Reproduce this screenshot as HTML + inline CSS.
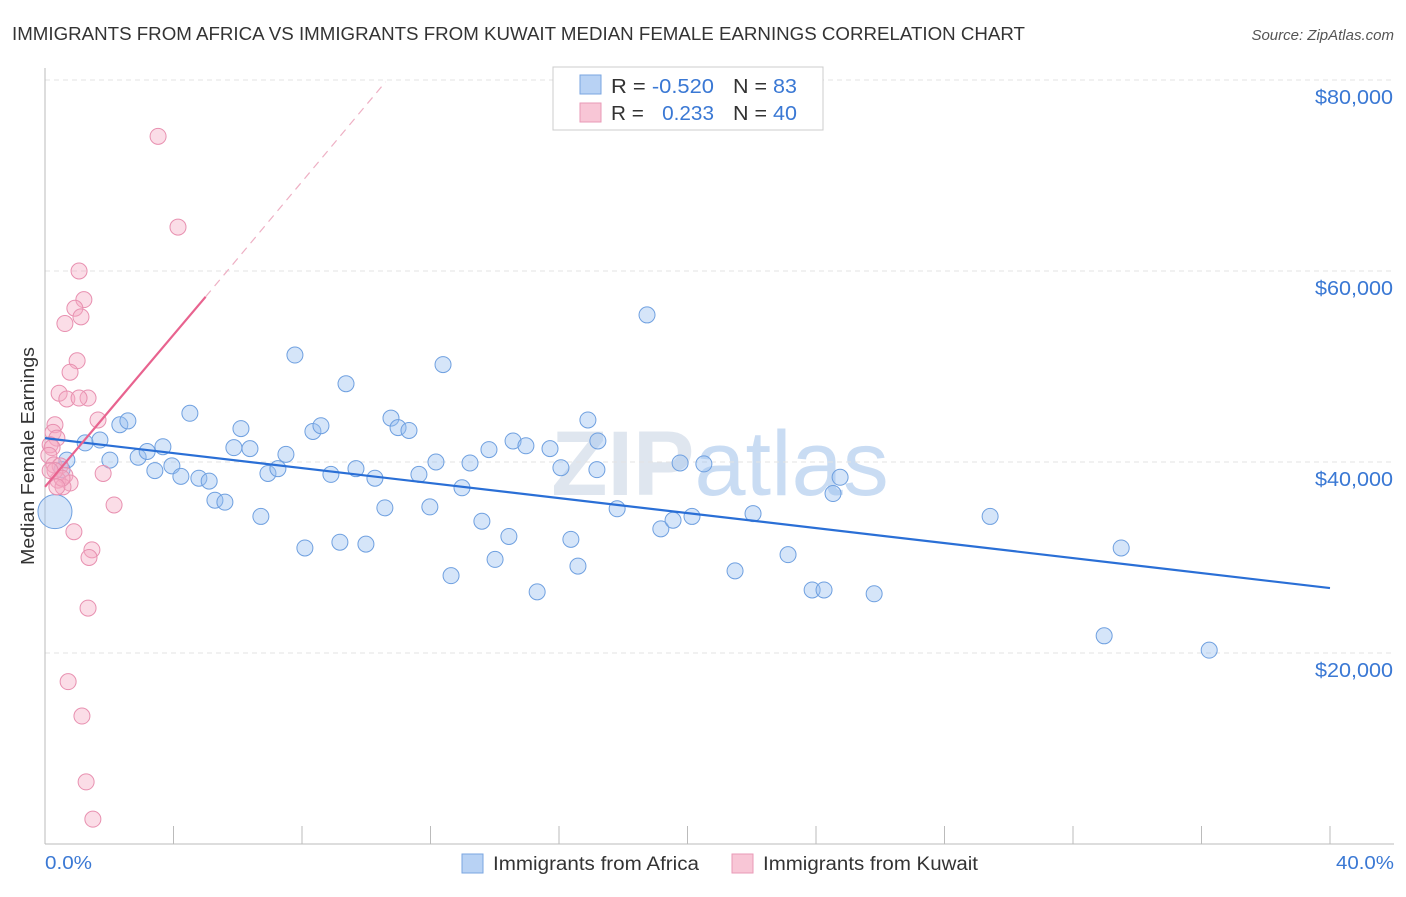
<!DOCTYPE html>
<html><head><meta charset="utf-8"><style>
body{margin:0;background:#fff;font-family:"Liberation Sans",sans-serif;}
svg text{font-family:"Liberation Sans",sans-serif;}
</style></head><body>
<svg id="chart" width="1406" height="892">
<text x="12" y="40" font-size="18" fill="#333" textLength="1013" lengthAdjust="spacingAndGlyphs">IMMIGRANTS FROM AFRICA VS IMMIGRANTS FROM KUWAIT MEDIAN FEMALE EARNINGS CORRELATION CHART</text>
<text x="1394" y="40" font-size="15" fill="#555" font-style="italic" text-anchor="end">Source: ZipAtlas.com</text>
<text x="720" y="495" font-size="92" fill="#dfe6ef" text-anchor="middle" font-weight="bold">ZIP<tspan fill="#c9dcf3" font-weight="normal">atlas</tspan></text>
<g id="grid"></g>
<g id="axes"></g>
<g id="marks"></g>
<text transform="translate(34,456) rotate(-90)" font-size="18" fill="#333" text-anchor="middle" textLength="218" lengthAdjust="spacingAndGlyphs">Median Female Earnings</text>
<text x="45" y="869" font-size="18" fill="#3a78d4" textLength="47" lengthAdjust="spacingAndGlyphs">0.0%</text>
<text x="1336" y="869" font-size="18" fill="#3a78d4" textLength="58" lengthAdjust="spacingAndGlyphs">40.0%</text>
<g>
<rect x="553" y="67" width="270" height="63" fill="#fff" stroke="#ccc"/>
<rect x="580" y="75" width="21" height="19" fill="#b8d2f4" stroke="#7aa6e0"/>
<rect x="580" y="103" width="21" height="19" fill="#f8c6d6" stroke="#e99ab7"/>
<text x="611" y="93" font-size="20" fill="#333" textLength="103" lengthAdjust="spacingAndGlyphs">R = <tspan fill="#3a78d4">-0.520</tspan></text>
<text x="733" y="93" font-size="20" fill="#333" textLength="64" lengthAdjust="spacingAndGlyphs">N = <tspan fill="#3a78d4">83</tspan></text>
<text x="611" y="120" font-size="20" fill="#333" textLength="103" lengthAdjust="spacingAndGlyphs">R = <tspan fill="#3a78d4" dx="12">0.233</tspan></text>
<text x="733" y="120" font-size="20" fill="#333" textLength="64" lengthAdjust="spacingAndGlyphs">N = <tspan fill="#3a78d4">40</tspan></text>
</g>
<g>
<rect x="462" y="854" width="21" height="19" fill="#b8d2f4" stroke="#7aa6e0"/>
<text x="493" y="870" font-size="19" fill="#333" textLength="206" lengthAdjust="spacingAndGlyphs">Immigrants from Africa</text>
</g>
<g>
<rect x="732" y="854" width="21" height="19" fill="#f8c6d6" stroke="#e99ab7"/>
<text x="763" y="870" font-size="19" fill="#333" textLength="215" lengthAdjust="spacingAndGlyphs">Immigrants from Kuwait</text>
</g>
</svg>
<script>
const yTicks=[20000,40000,60000,80000];
const yTickLabels=["$20,000","$40,000","$60,000","$80,000"];
const xTicks=[0,4,8,12,16,20,24,28,32,36,40];
const africaX=[0.31,0.68,0.53,1.25,1.71,2.02,2.33,2.58,2.90,3.18,3.42,3.67,3.95,4.23,4.51,4.79,5.11,5.29,5.60,5.88,6.10,6.38,6.72,6.94,7.25,7.50,7.78,8.09,8.34,8.59,8.90,9.18,9.37,9.68,9.99,10.27,10.58,10.77,10.99,11.33,11.64,11.98,12.17,12.39,12.64,12.98,13.23,13.60,13.82,14.01,14.44,14.57,14.97,15.32,15.72,16.06,16.37,16.59,16.90,17.18,17.21,17.81,18.74,19.17,19.55,19.77,20.14,20.51,21.48,22.04,23.13,23.88,24.25,24.53,24.75,25.81,29.42,32.97,33.50,36.24];
const africaY=[34.8,40.2,39.2,42.0,42.3,40.2,43.9,44.3,40.5,41.1,39.1,41.6,39.6,38.5,45.1,38.3,38.0,36.0,35.8,41.5,43.5,41.4,34.3,38.8,39.3,40.8,51.2,31.0,43.2,43.8,38.7,31.6,48.2,39.3,31.4,38.3,35.2,44.6,43.6,43.3,38.7,35.3,40.0,50.2,28.1,37.3,39.9,33.8,41.3,29.8,32.2,42.2,41.7,26.4,41.4,39.4,31.9,29.1,44.4,39.2,42.2,35.1,55.4,33.0,33.9,39.9,34.3,39.8,28.6,34.6,30.3,26.6,26.6,36.7,38.4,26.2,34.3,21.8,31.0,20.3];
const kuwaitX=[3.52,4.14,1.06,1.21,0.93,1.12,0.62,1.00,0.78,0.44,0.68,1.34,1.06,1.65,0.31,0.25,0.37,0.16,0.22,0.12,0.28,0.47,0.62,0.40,0.78,0.56,1.81,2.15,0.90,1.46,1.37,1.34,0.72,1.15,1.28,1.49,0.31,0.16,0.53,0.37];
const kuwaitY=[74.1,64.6,60.0,57.0,56.1,55.2,54.5,50.6,49.4,47.2,46.6,46.7,46.7,44.4,43.9,43.1,42.5,41.8,41.5,40.7,39.7,39.6,38.6,38.1,37.8,37.4,38.8,35.5,32.7,30.8,30.0,24.7,17.0,13.4,6.5,2.6,39.1,39.1,38.3,37.4];
const africaTrend=[[0,42.5],[40,26.8]];
const kuwaitTrend=[[0,37.4],[5,57.3]];
const kuwaitDash=[[5,57.3],[10.6,79.8]];

const NS="http://www.w3.org/2000/svg";
const sx=v=>45+v/40*1285;
const sy=v=>844-v*191/20000;
function mk(tag,attrs,parent){const e=document.createElementNS(NS,tag);for(const k in attrs)e.setAttribute(k,attrs[k]);document.getElementById(parent).appendChild(e);return e;}
yTicks.forEach((t,i)=>{
  const l=mk('line',{x1:45,x2:1394,y1:sy(t),y2:sy(t),stroke:'#e3e3e3','stroke-dasharray':'5,4'},'grid');
  
  
  const tx=mk('text',{x:1315,y:sy(t)+24,'font-size':20,fill:'#3a78d4',textLength:78,lengthAdjust:'spacingAndGlyphs'},'grid');
  tx.textContent=yTickLabels[i];
  
  
});
const ax=mk('line',{x1:45,x2:1394,y1:844,y2:844,stroke:'#bbb'},'axes');


const ay=mk('line',{x1:45,x2:45,y1:68,y2:844,stroke:'#bbb'},'axes');


xTicks.forEach(t=>{
  const l=mk('line',{x1:sx(t),x2:sx(t),y1:826,y2:844,stroke:'#bbb'},'axes');
  
  
});
africaX.forEach((x,i)=>{
  const c=mk('circle',{cx:sx(x),cy:sy(africaY[i]*1000),r:i===0?17:8,fill:'rgba(150,190,240,0.4)',stroke:'#6fa0e0','stroke-width':1},'marks');
  
  
});
kuwaitX.forEach((x,i)=>{
  const c=mk('circle',{cx:sx(x),cy:sy(kuwaitY[i]*1000),r:8,fill:'rgba(245,170,195,0.4)',stroke:'#e890b0','stroke-width':1},'marks');
  
  
});
const t1=mk('line',{x1:sx(africaTrend[0][0]),y1:sy(africaTrend[0][1]*1000),x2:sx(africaTrend[1][0]),y2:sy(africaTrend[1][1]*1000),stroke:'#2a6fd6','stroke-width':2.2},'marks');


const t2=mk('line',{x1:sx(kuwaitTrend[0][0]),y1:sy(kuwaitTrend[0][1]*1000),x2:sx(kuwaitTrend[1][0]),y2:sy(kuwaitTrend[1][1]*1000),stroke:'#e8638f','stroke-width':2.2},'marks');


const t3=mk('line',{x1:sx(kuwaitDash[0][0]),y1:sy(kuwaitDash[0][1]*1000),x2:sx(kuwaitDash[1][0]),y2:sy(kuwaitDash[1][1]*1000),stroke:'#eeb0c4','stroke-width':1.2,'stroke-dasharray':'8,6'},'marks');


</script>
</body></html>
